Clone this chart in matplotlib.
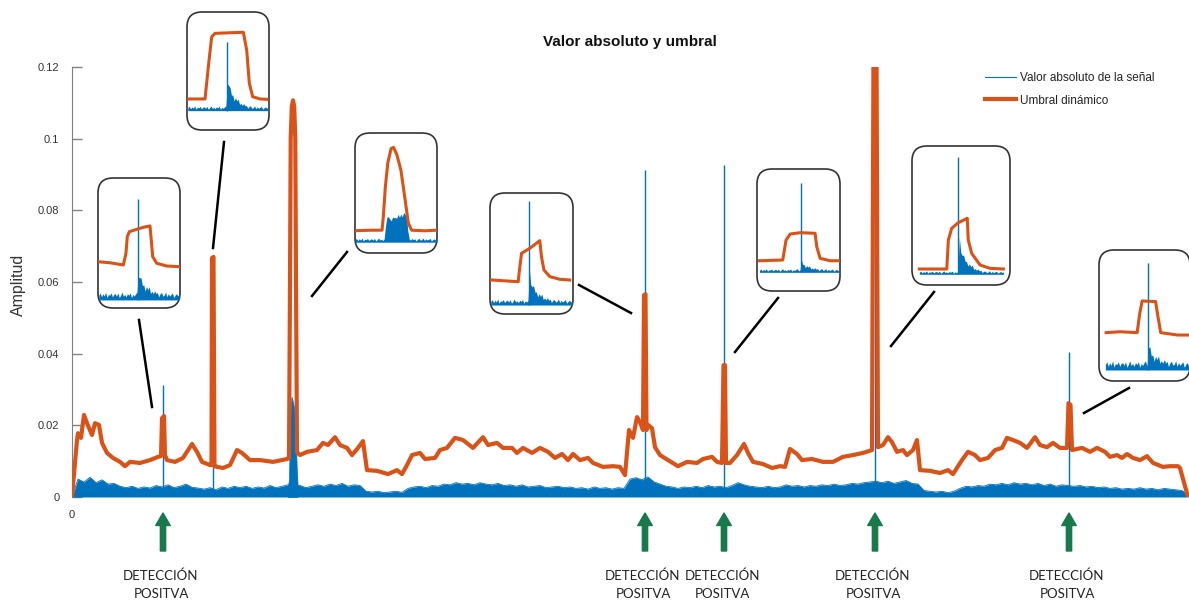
import numpy as np
import matplotlib
matplotlib.use('Agg')
import matplotlib.pyplot as plt
from matplotlib.patches import FancyBboxPatch
from matplotlib.lines import Line2D

plt.rcParams['font.family'] = ['Liberation Sans', 'DejaVu Sans']

BLUE = '#0072BD'
ORANGE = '#D95319'
GREEN = '#187A4A'

# dynamic threshold (sample, amplitude)
thr_x = [0, 5, 6, 9, 12, 15, 20, 23, 27, 30, 35, 41, 48, 53, 58, 68, 78, 86, 89, 90, 92, 93,
         95, 103, 111, 120, 125, 130, 138, 139.5, 140, 141.5, 142.5, 145, 151, 158, 165, 170,
         178, 188, 201, 215, 217, 218, 218.7, 219.8, 221, 222.2, 223.3, 224, 225, 228, 235,
         245, 251, 256, 263, 268, 275, 280, 286, 291, 295, 305, 316, 325, 330, 335, 340, 348,
         353, 363, 368, 375, 383, 391, 401, 411, 416, 425, 431, 440, 445, 451, 460, 468, 476,
         483, 490, 496, 501, 508, 516, 521, 531, 541, 548, 553, 557, 561, 565, 568, 571, 572,
         573.5, 574.5, 576, 580, 583, 588, 596, 606, 615, 625, 631, 640, 645, 650, 651.5, 653,
         654, 658, 665, 672, 676, 681, 691, 700, 708, 713, 718, 725, 730, 740, 751, 761, 771,
         781, 791, 800, 801.5, 804.5, 806, 811, 816, 820, 825, 831, 835, 841, 845, 848, 858,
         868, 876, 881, 890, 896, 903, 908, 916, 923, 930, 935, 941, 948, 955, 963, 968, 975,
         981, 988, 995, 996.5, 998.5, 1000, 1010, 1018, 1025, 1033, 1038, 1045, 1050, 1055,
         1061, 1068, 1075, 1081, 1091, 1098, 1106, 1108, 1116]
thr_y = [0, 0.0159, 0.0178, 0.0165, 0.0229, 0.0206, 0.0173, 0.0206, 0.0201, 0.0151, 0.0123,
         0.0109, 0.0098, 0.0086, 0.0098, 0.0095, 0.0103, 0.0112, 0.0114, 0.0220, 0.0226, 0.0117,
         0.0103, 0.0098, 0.0109, 0.0148, 0.0126, 0.0098, 0.0089, 0.0089, 0.0667, 0.0670, 0.0086,
         0.0084, 0.0081, 0.0089, 0.0131, 0.0123, 0.0103, 0.0103, 0.0098, 0.0106, 0.0108, 0.060,
         0.100, 0.109, 0.1107, 0.109, 0.100, 0.060, 0.0125, 0.0117, 0.0126, 0.0131, 0.0151,
         0.0145, 0.0167, 0.0145, 0.0137, 0.0117, 0.0137, 0.0156, 0.0075, 0.0073, 0.0064, 0.0075,
         0.0064, 0.0089, 0.0117, 0.0123, 0.0106, 0.0109, 0.0131, 0.0137, 0.0165, 0.0159, 0.0137,
         0.0167, 0.0145, 0.0151, 0.0137, 0.0137, 0.0123, 0.0137, 0.0123, 0.0137, 0.0126, 0.0109,
         0.0120, 0.0103, 0.0120, 0.0103, 0.0109, 0.0095, 0.0084, 0.0086, 0.0084, 0.0061, 0.0187,
         0.0165, 0.0223, 0.0209, 0.0187, 0.0563, 0.0566, 0.0187, 0.0201, 0.0192, 0.0139, 0.0117,
         0.0103, 0.0086, 0.0098, 0.0095, 0.0106, 0.0112, 0.0098, 0.0095, 0.0368, 0.0368, 0.0095,
         0.0095, 0.0117, 0.0148, 0.0123, 0.0098, 0.0092, 0.0081, 0.0086, 0.0084, 0.0134, 0.0120,
         0.0103, 0.0106, 0.0098, 0.0098, 0.0112, 0.0117, 0.0123, 0.0131, 0.125, 0.125, 0.0139,
         0.0145, 0.0167, 0.0153, 0.0126, 0.0131, 0.0117, 0.0131, 0.0159, 0.0075, 0.0073, 0.0067,
         0.0075, 0.0064, 0.0103, 0.0126, 0.0117, 0.0103, 0.0109, 0.0131, 0.0137, 0.0165, 0.0159,
         0.0151, 0.0137, 0.0167, 0.0145, 0.0139, 0.0151, 0.0137, 0.0137, 0.0262, 0.0257, 0.0131,
         0.0137, 0.0126, 0.0137, 0.0126, 0.0112, 0.0117, 0.0109, 0.0120, 0.0109, 0.0103, 0.0114,
         0.0095, 0.0084, 0.0086, 0.0086, 0.0081, 0.0]

# |signal| envelope, one value every 6 samples (x 1e-3)
sig_abs = np.array([
    0.0, 5.0, 4.2, 5.5, 4.0, 4.8, 3.6, 3.8, 3.0, 2.6,
    3.0, 2.4, 2.8, 2.5, 3.2, 2.8, 3.4, 2.6, 3.0, 3.6,
    2.7, 2.5, 2.2, 2.6, 2.0, 2.8, 2.4, 3.0, 2.6, 3.0,
    2.4, 2.8, 2.5, 3.2, 2.6, 3.0, 3.4, 3.6, 3.2, 2.6,
    3.0, 3.4, 3.0, 3.6, 3.2, 3.8, 3.0, 3.4, 3.2, 1.6,
    1.4, 1.6, 1.2, 1.4, 1.6, 1.3, 2.4, 2.8, 3.0, 2.6,
    3.2, 3.0, 3.6, 3.4, 4.0, 3.6, 3.8, 3.4, 4.0, 3.6,
    3.4, 3.8, 3.2, 3.4, 3.0, 3.4, 2.8, 3.0, 3.2, 2.6,
    2.8, 3.0, 2.6, 2.8, 2.4, 2.6, 2.2, 2.8, 2.4, 2.6,
    2.2, 2.6, 2.4, 5.0, 5.4, 4.8, 5.6, 4.2, 3.6, 3.0,
    2.8, 2.4, 2.8, 2.6, 3.0, 2.6, 3.2, 2.8, 3.0, 2.6,
    3.2, 4.0, 3.4, 3.0, 2.8, 2.6, 3.0, 2.6, 2.8, 3.4,
    3.0, 3.2, 2.8, 3.2, 3.0, 3.4, 3.2, 3.6, 3.2, 3.4,
    3.8, 3.6, 4.0, 4.2, 4.4, 4.0, 4.4, 3.8, 4.2, 4.6,
    3.8, 3.6, 1.8, 1.6, 1.4, 1.6, 1.2, 1.6, 2.4, 3.0,
    2.8, 3.2, 3.0, 3.6, 3.4, 3.8, 3.4, 4.0, 3.6, 3.8,
    3.4, 3.8, 3.2, 3.6, 3.0, 3.4, 3.2, 3.0, 3.2, 2.8,
    3.0, 2.6, 2.8, 2.4, 2.6, 2.2, 2.4, 2.2, 2.6, 2.2,
    2.4, 2.0, 2.4, 2.2, 2.0, 1.8, 0.6]) / 1000

# isolated peaks of |signal|
peak_x = [91, 141, 573, 652, 803, 997]
peak_y = [0.0312, 0.05, 0.0912, 0.0926, 0.11, 0.0405]
# wide burst
burst_x = [216, 217, 218, 219.5, 220.5, 222, 223, 224, 224.7, 225.5]
burst_y = [0.003, 0.005, 0.020, 0.028, 0.027, 0.025, 0.0215, 0.015, 0.008, 0.004]

detect_x = [91, 573, 652, 803, 997]
detect_label = 'DETECCIÓN\nPOSITVA'

# zoomed views (normalised units)
ins1_x = [0.0, 0.146, 0.309, 0.341, 0.357, 0.382, 0.472, 0.553, 0.634, 0.646, 0.667, 0.716, 0.838, 0.992]
ins1_y = [0.356, 0.348, 0.331, 0.421, 0.549, 0.587, 0.605, 0.621, 0.631, 0.549, 0.395, 0.344, 0.323, 0.318]
ins2_x = [0.016, 0.220, 0.260, 0.301, 0.341, 0.524, 0.687, 0.728, 0.760, 0.801, 0.890, 0.972]
ins2_y = [0.263, 0.263, 0.535, 0.790, 0.819, 0.824, 0.828, 0.678, 0.396, 0.282, 0.263, 0.260]
ins3_x = [0.0, 0.2, 0.33, 0.345, 0.37, 0.40, 0.44, 0.47, 0.51, 0.56, 0.61, 0.65, 0.69, 0.85, 1.0]
ins3_y = [0.186, 0.19, 0.19, 0.30, 0.55, 0.75, 0.87, 0.88, 0.82, 0.69, 0.45, 0.25, 0.19, 0.185, 0.19]
ins4_x = [0.02, 0.34, 0.355, 0.38, 0.48, 0.60, 0.62, 0.65, 0.72, 0.84, 0.96]
ins4_y = [0.281, 0.267, 0.364, 0.502, 0.543, 0.606, 0.474, 0.364, 0.309, 0.287, 0.281]
ins5_x = [0.03, 0.31, 0.35, 0.40, 0.52, 0.70, 0.72, 0.76, 0.88, 0.98]
ins5_y = [0.248, 0.254, 0.418, 0.467, 0.478, 0.473, 0.363, 0.268, 0.248, 0.248]
ins6_x = [0.075, 0.355, 0.371, 0.405, 0.472, 0.564, 0.574, 0.609, 0.694, 0.796, 0.932]
ins6_y = [0.115, 0.115, 0.324, 0.408, 0.448, 0.48, 0.324, 0.228, 0.144, 0.12, 0.115]
ins7_x = [0.078, 0.233, 0.419, 0.448, 0.474, 0.622, 0.648, 0.678, 0.863, 1.0]
ins7_y = [0.369, 0.376, 0.369, 0.517, 0.611, 0.606, 0.491, 0.369, 0.351, 0.351]

ins_thr_x = [ins1_x, ins2_x, ins3_x, ins4_x, ins5_x, ins6_x, ins7_x]
ins_thr_y = [ins1_y, ins2_y, ins3_y, ins4_y, ins5_y, ins6_y, ins7_y]
ins_span = [(0.01, 0.99), (0.01, 0.99), (0.0, 1.0), (0.01, 0.99), (0.03, 0.99), (0.075, 0.935), (0.07, 1.0)]
ins_base = [0.062, 0.164, 0.09, 0.074, 0.153, 0.077, 0.084]
ins_noise_amp = [0.06, 0.04, 0.035, 0.05, 0.03, 0.025, 0.07]
ins_peak_x = [0.49, 0.49, None, 0.474, 0.526, 0.469, 0.537]
ins_peak_y = [0.838, 0.748, None, 0.93, 0.888, 0.923, 0.90]
ins_tail_amp = [0.2, 0.28, 0.0, 0.24, 0.08, 0.24, 0.15]

noise = [0.6, 0.9, 0.4, 0.8, 0.5, 1.0, 0.3, 0.7, 0.6, 0.9,
         0.4, 0.7, 0.8, 0.5, 0.9, 0.3, 0.6, 1.0, 0.5, 0.7,
         0.4, 0.8, 0.6, 0.9, 0.3, 0.7, 0.5, 0.8, 1.0, 0.4,
         0.6, 0.9, 0.5, 0.7, 0.3, 0.8, 0.6, 1.0, 0.4, 0.7,
         0.5, 0.9, 0.6, 0.8, 0.3, 0.7, 0.9, 0.5, 0.6, 1.0,
         0.4, 0.8, 0.5, 0.7, 0.9, 0.3, 0.6, 0.8, 0.5, 0.7]
tail = [1.0, 0.8, 0.6, 0.5, 0.42, 0.35, 0.3, 0.25, 0.2, 0.17, 0.14, 0.11, 0.09, 0.07, 0.05, 0.04, 0.03, 0.02]
ins3_burst = [0.12, 0.18, 0.20, 0.17, 0.16, 0.18, 0.17, 0.19, 0.18, 0.20, 0.19, 0.21, 0.20, 0.22, 0.21, 0.19, 0.08]

# box positions in pixels (left, top, right, bottom) and leader lines
ins_box = [(98, 178, 180, 308), (187, 12, 269, 130), (355, 133, 437, 253), (490, 193, 573, 314),
           (757, 169, 840, 291), (912, 146, 1010, 285), (1099, 250, 1190, 381)]
leaders = [((139, 320), (152, 407)), ((224, 142), (213, 248)), ((347, 252), (312, 296)),
           ((579, 285), (631, 313)), ((778, 298), (735, 352)), ((934, 292), (891, 346)),
           ((1129, 388), (1084, 413))]

W, H = 1189, 604
fig = plt.figure(figsize=(W / 100, H / 100), dpi=100)
ax = fig.add_axes([72 / W, 107 / H, 1117 / W, 430 / H])

sig_x = np.linspace(0, 1116, len(sig_abs))
ax.fill_between(sig_x, 0, sig_abs, color=BLUE, lw=0, zorder=2)
ax.plot(sig_x, sig_abs, color=BLUE, lw=0.6, zorder=2)
ax.fill_between(burst_x, 0, burst_y, color=BLUE, lw=0.5, zorder=2)
ax.vlines(peak_x, 0, peak_y, color=BLUE, lw=1.0, zorder=2)
ax.plot(thr_x, thr_y, color=ORANGE, lw=3, solid_joinstyle='round', zorder=3)

ax.set_xlim(0, 1117)
ax.set_ylim(0, 0.12)
for s in ['top', 'right', 'bottom']:
    ax.spines[s].set_visible(False)
ax.spines['left'].set_color('#808080')
ax.set_yticks([0, 0.02, 0.04, 0.06, 0.08, 0.1, 0.12])
ax.set_yticklabels(['0', '0.02', '0.04', '0.06', '0.08', '0.1', '0.12'])
ax.tick_params(axis='y', direction='in', length=7.5, width=1, color='#808080',
               pad=9, labelsize=8, labelcolor='#333333')
ax.set_xticks([0])
ax.set_xticklabels(['0'])
ax.tick_params(axis='x', length=0, pad=9, labelsize=8, labelcolor='#333333')

fig.text(630 / W, 1 - 42 / H, 'Valor absoluto y umbral', ha='center', va='center',
         fontsize=11, fontweight='bold', color='#111111')
fig.text(18 / W, 1 - 285 / H, 'Amplitud', rotation=90, ha='center', va='center',
         fontsize=11.5, color='#333333')

handles = [Line2D([], [], color=BLUE, lw=0.8), Line2D([], [], color=ORANGE, lw=3)]
fig.legend(handles, ['Valor absoluto de la señal', 'Umbral dinámico'], loc='upper left',
           bbox_to_anchor=(985 / W, 1 - 72 / H), frameon=False, fontsize=8.5,
           handlelength=2.6, handletextpad=0.35, labelspacing=0.9, borderpad=0,
           borderaxespad=0, labelcolor='#222222')

# detection markers under the axis
for x in detect_x:
    ax.annotate('', xy=(x, 1 - 513 / H), xycoords=('data', 'figure fraction'),
                xytext=(x, 1 - 551 / H), textcoords=('data', 'figure fraction'),
                arrowprops=dict(arrowstyle='simple,head_width=1.05,head_length=0.9,tail_width=0.38',
                                color=GREEN, shrinkA=0, shrinkB=0),
                annotation_clip=False)
    ax.annotate(detect_label, xy=(x - 2, 1 - 570 / H), xycoords=('data', 'figure fraction'),
                ha='center', va='top', fontsize=9.5, color='#222222', linespacing=1.55,
                family=['Lato', 'DejaVu Sans'], annotation_clip=False)

# leader lines from zoom boxes to the events
for (p0, p1) in leaders:
    fig.add_artist(Line2D([p0[0] / W, p1[0] / W], [1 - p0[1] / H, 1 - p1[1] / H],
                          transform=fig.transFigure, color='black', lw=1.8, zorder=3))

# zoom boxes
for k, (x0, y0, x1, y1) in enumerate(ins_box):
    fig.add_artist(FancyBboxPatch((x0 / 100, (H - y1) / 100), (x1 - x0) / 100, (y1 - y0) / 100,
                                  boxstyle='round,pad=0,rounding_size=0.15',
                                  transform=fig.dpi_scale_trans, fc='white',
                                  ec='#333333', lw=1.2, zorder=4))
    iax = fig.add_axes([x0 / W, (H - y1) / H, (x1 - x0) / W, (y1 - y0) / H], zorder=5)
    iax.set_xlim(0, 1)
    iax.set_ylim(0, 1)
    iax.set_axis_off()

    base = ins_base[k]
    bx = np.linspace(ins_span[k][0], ins_span[k][1], len(noise))
    by = base + ins_noise_amp[k] * np.array(noise)
    if ins_peak_x[k] is not None:
        i = int(np.searchsorted(bx, ins_peak_x[k]))
        n = min(len(tail), len(bx) - i)
        by[i:i + n] += ins_tail_amp[k] * np.array(tail[:n]) * (0.6 + 0.4 * np.array(noise[i:i + n]))
        iax.vlines(ins_peak_x[k], base, ins_peak_y[k], color=BLUE, lw=1.0)
    else:
        idx = np.where((bx >= 0.37) & (bx <= 0.65))[0]
        by[idx] += np.array(ins3_burst[:len(idx)])
    iax.fill_between(bx, base, by, color=BLUE, lw=0)
    iax.plot(ins_thr_x[k], ins_thr_y[k], color=ORANGE, lw=2.2, solid_joinstyle='round')

fig.savefig('out.png', dpi=100)
